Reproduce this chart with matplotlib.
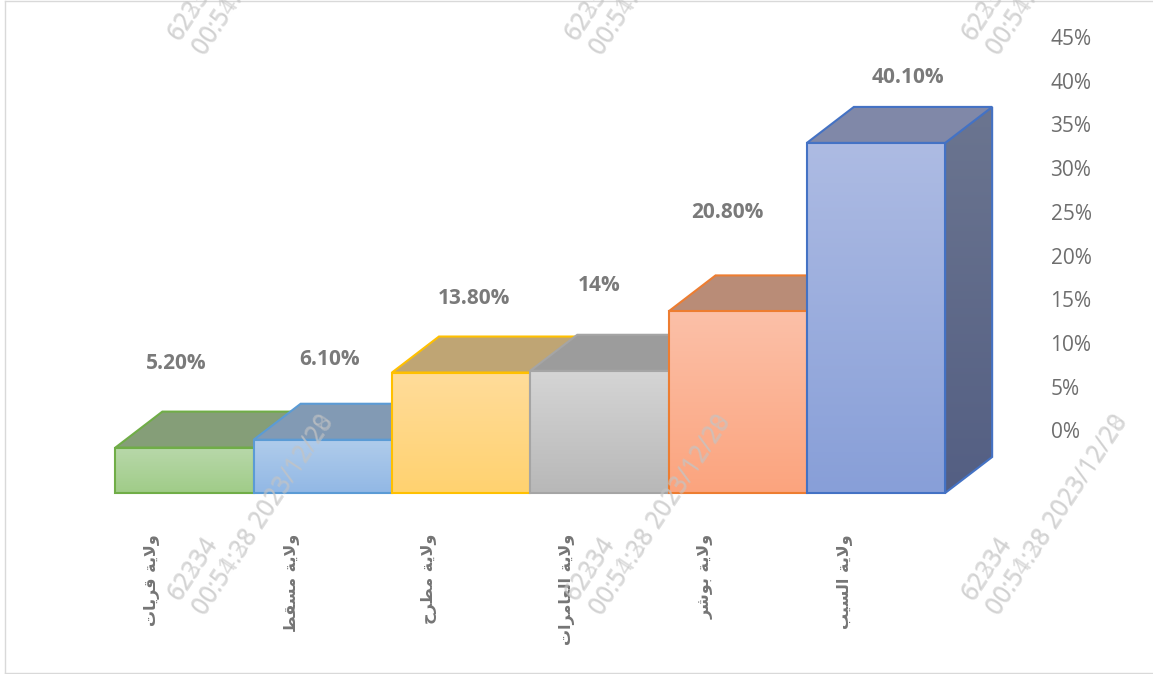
import numpy as np
import matplotlib
matplotlib.use("Agg")
import matplotlib.pyplot as plt
from matplotlib.colors import LinearSegmentedColormap
from matplotlib.lines import Line2D
from matplotlib.patches import Polygon

W, H = 1153, 674

categories = ["ولاية قريات", "ولاية مسقط", "ولاية مطرح", "ولاية العامرات", "ولاية بوشر", "ولاية السيب"]
values = [5.2, 6.1, 13.8, 14.0, 20.8, 40.1]
value_labels = ["5.20%", "6.10%", "13.80%", "14%", "20.80%", "40.10%"]
axis_ticks = [0, 5, 10, 15, 20, 25, 30, 35, 40, 45]

label_offsets = [(-8, 84), (7, 80), (13, 74), (0, 85), (-10, 99), (32, 65)]
edge_colors = ["#70ad47", "#5b9bd5", "#ffc000", "#a5a5a5", "#ed7d31", "#4472c4"]
front_top = ["#b8d8aa", "#b0cceb", "#ffdc9a", "#d5d5d5", "#fcc0a8", "#adbbe3"]
front_bottom = ["#a0cc88", "#92b8e5", "#ffd270", "#b8b8b8", "#fba47e", "#889fd8"]
top_colors = ["#859e78", "#829ab4", "#bfa574", "#9c9c9c", "#b98c77", "#8088a8"]
side_top = ["#6a8a58", "#6d86a3", "#a58c5c", "#838383", "#a0745f", "#6b7590"]
side_bottom = ["#5c7a4c", "#5d7690", "#917a4c", "#707070", "#8e6450", "#545f83"]

# Simple Arabic contextual shaper: matplotlib draws glyphs without joining them.
FORMS = {
    "ا": (0xFE8D, 0xFE8E, None, None), "ب": (0xFE8F, 0xFE90, 0xFE91, 0xFE92),
    "ة": (0xFE93, 0xFE94, None, None), "ت": (0xFE95, 0xFE96, 0xFE97, 0xFE98),
    "ح": (0xFEA1, 0xFEA2, 0xFEA3, 0xFEA4), "ر": (0xFEAD, 0xFEAE, None, None),
    "س": (0xFEB1, 0xFEB2, 0xFEB3, 0xFEB4), "ش": (0xFEB5, 0xFEB6, 0xFEB7, 0xFEB8),
    "ط": (0xFEC1, 0xFEC2, 0xFEC3, 0xFEC4), "ع": (0xFEC9, 0xFECA, 0xFECB, 0xFECC),
    "ق": (0xFED5, 0xFED6, 0xFED7, 0xFED8), "ل": (0xFEDD, 0xFEDE, 0xFEDF, 0xFEE0),
    "م": (0xFEE1, 0xFEE2, 0xFEE3, 0xFEE4), "و": (0xFEED, 0xFEEE, None, None),
    "ي": (0xFEF1, 0xFEF2, 0xFEF3, 0xFEF4),
}


def shape(text):
    out = []
    prev_joins = False
    i = 0
    while i < len(text):
        c = text[i]
        if c not in FORMS:
            out.append(c)
            prev_joins = False
            i += 1
            continue
        if c == "ل" and i + 1 < len(text) and text[i + 1] == "ا":
            out.append(chr(0xFEFC if prev_joins else 0xFEFB))
            prev_joins = False
            i += 2
            continue
        iso, fin, ini, med = FORMS[c]
        nxt = text[i + 1] if i + 1 < len(text) else " "
        next_ok = nxt in FORMS and ini is not None
        if prev_joins and next_ok:
            g = med
        elif prev_joins:
            g = fin
        elif next_ok:
            g = ini
        else:
            g = iso
        out.append(chr(g))
        prev_joins = ini is not None
        i += 1
    return "".join(reversed(out))


fig = plt.figure(figsize=(W / 100, H / 100), dpi=100, facecolor="white")
ax = fig.add_axes([0, 0, 1, 1])
ax.axis("off")
x_scale, y_scale = 138.3, 8.73
ax.set_xlim((0 - 184.5) / x_scale, (W - 184.5) / x_scale)
ax.set_ylim((493 - H) / y_scale, 493 / y_scale)
dx, dy = 47 / x_scale, 36 / y_scale


def gradient_poly(pts, c_top, c_bottom, edge, z):
    pts = np.array(pts)
    cmap = LinearSegmentedColormap.from_list("g", [c_top, c_bottom])
    im = ax.imshow(np.linspace(0, 1, 64)[:, None], cmap=cmap, aspect="auto",
                   extent=[pts[:, 0].min(), pts[:, 0].max(), pts[:, 1].min(), pts[:, 1].max()],
                   origin="upper", zorder=z, interpolation="bilinear")
    face = Polygon(pts, closed=True, transform=ax.transData, facecolor="none",
                   edgecolor=edge, linewidth=1.5, joinstyle="miter", zorder=z + 0.1)
    ax.add_patch(face)
    im.set_clip_path(face)


for i, v in enumerate(values):
    l, r = i - 0.5, i + 0.5
    z = 2 + i
    gradient_poly([(r, 0), (r + dx, dy), (r + dx, v + dy), (r, v)],
                  side_top[i], side_bottom[i], edge_colors[i], z)
    ax.add_patch(Polygon([(l, v), (l + dx, v + dy), (r + dx, v + dy), (r, v)], closed=True,
                         facecolor=top_colors[i], edgecolor=edge_colors[i], linewidth=1.5,
                         joinstyle="miter", zorder=z + 0.2))
    gradient_poly([(l, 0), (r, 0), (r, v), (l, v)], front_top[i], front_bottom[i],
                  edge_colors[i], z + 0.3)
    ax.annotate(value_labels[i], xy=(i, v), xytext=label_offsets[i], textcoords="offset pixels",
                ha="center", va="center", fontsize=15, fontweight="bold", color="#7a7a7a",
                family=["Open Sans", "DejaVu Sans"], zorder=20)
    ax.annotate(shape(categories[i]), xy=(i, 0), xytext=(-32, -41), textcoords="offset pixels",
                ha="center", va="top", rotation=90, fontsize=11.5, fontweight="bold",
                color="#757575", family=["DejaVu Sans"], zorder=20)

ax.set_xlim((0 - 184.5) / x_scale, (W - 184.5) / x_scale)
ax.set_ylim((493 - H) / y_scale, 493 / y_scale)

# Value axis: its own scale, drawn to the right of the bars
ax2 = fig.add_axes([900 / W, 1 - 430.5 / H, 145 / W, (430.5 - 37) / H])
ax2.patch.set_alpha(0)
ax2.set_ylim(axis_ticks[0], axis_ticks[-1])
ax2.set_xticks([])
ax2.yaxis.tick_right()
ax2.set_yticks(axis_ticks)
ax2.set_yticklabels([f"{t}%" for t in axis_ticks], family="Open Sans", fontsize=15, color="#6e6e6e")
ax2.tick_params(axis="y", length=0, pad=4)
for s in ax2.spines.values():
    s.set_visible(False)

# Frame
for xs, ys in [((5, W), (1, 1)), ((5, 5), (1, 673)), ((5, W), (673, 673))]:
    fig.add_artist(Line2D([x / W for x in xs], [1 - y / H for y in ys], color="#d9d9d9", lw=1,
                          transform=fig.transFigure))

# Overlaid date stamps
stamp_cols = [0, 397, 794]
stamp_rows = [0, -560]
stamp_a = [("62334", 180, 602), ("00:54:38 2023/12/28", 205, 617)]
stamp_b = [("62234", 179, 601), ("00:51:28 2023/12/20", 204, 616)]
for cx in stamp_cols:
    for ry in stamp_rows:
        for txt, x, y in stamp_a + stamp_b:
            fig.text((x + cx) / W, 1 - (y + ry) / H, txt, rotation=56.5, rotation_mode="anchor",
                     ha="left", va="baseline", fontsize=17.7, color="#c4c4c4", alpha=0.55,
                     family="Open Sans", zorder=30)

fig.savefig("out.png", dpi=100)
